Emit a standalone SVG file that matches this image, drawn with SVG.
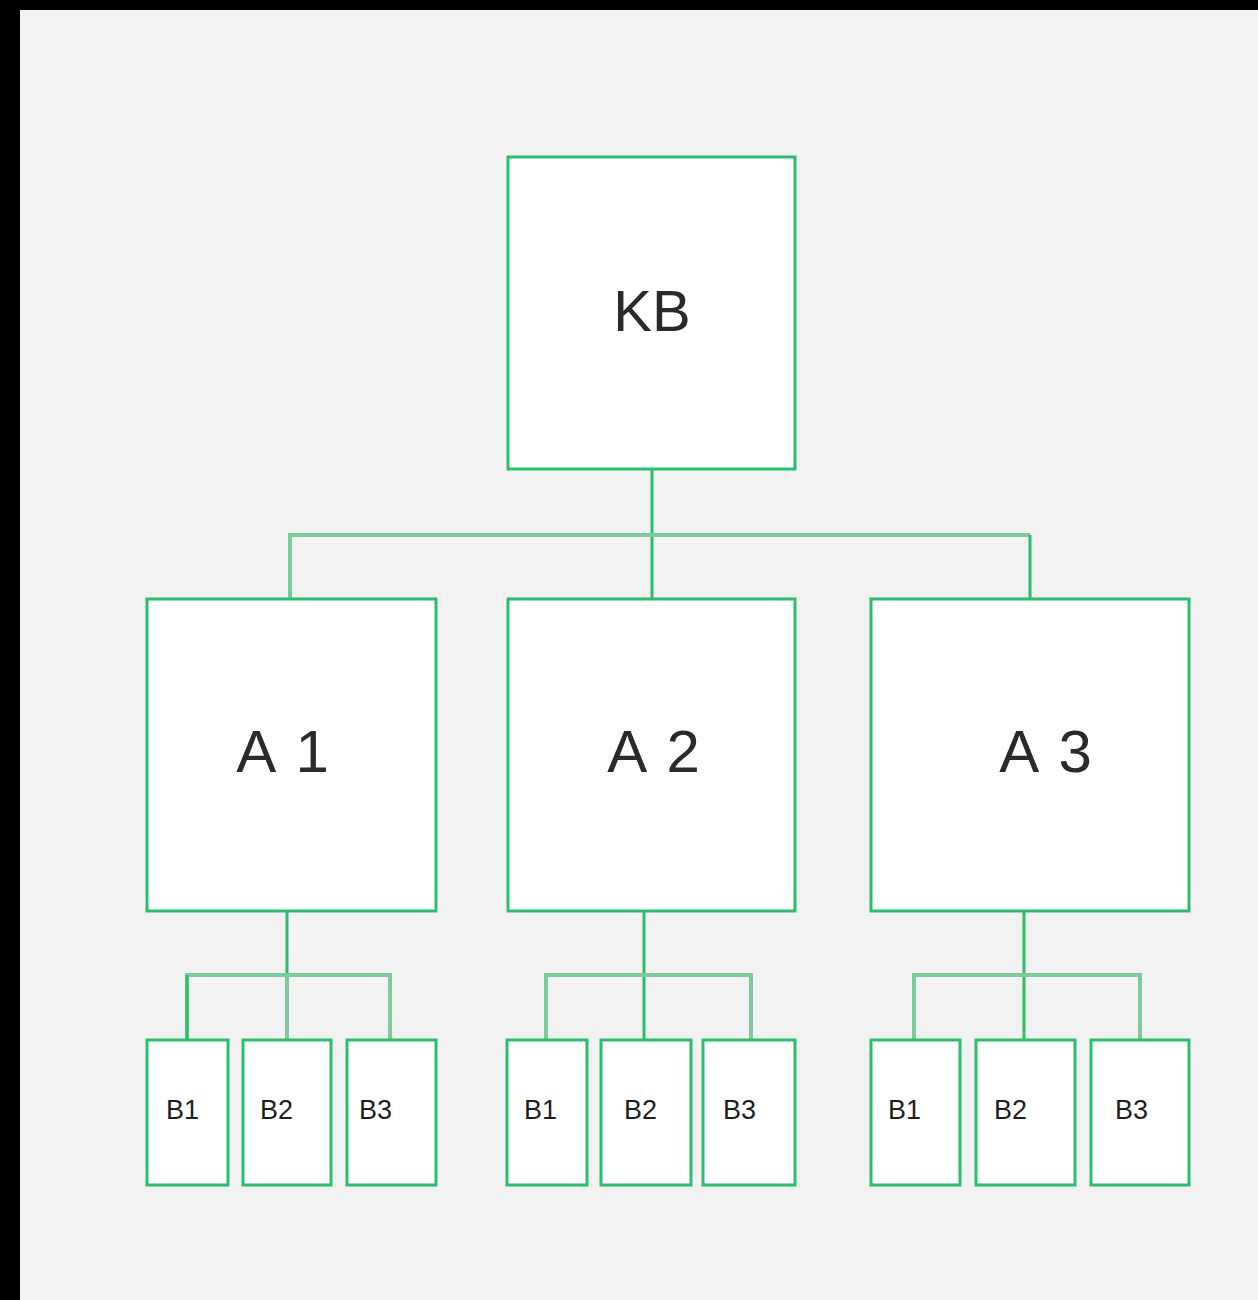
<svg xmlns="http://www.w3.org/2000/svg" width="1258" height="1300" viewBox="0 0 1258 1300">
  <style>
    .box { fill: #ffffff; stroke: #2dbd6e; stroke-width: 3; }
    .wire { fill: none; stroke: #2dbd6e; stroke-width: 3; }
    .soft { fill: none; stroke: #7ccb9c; stroke-width: 4; }
    .big { font-family: "Liberation Sans", Arial, sans-serif; font-size: 60px; fill: #2a2a2a; text-anchor: middle; }
    .root { font-size: 58px; }
    .wide { letter-spacing: 3px; }
    .small { font-family: "Liberation Sans", Arial, sans-serif; font-size: 27px; fill: #1e1e1e; }
  </style>

  <!-- frame and canvas -->
  <rect x="0" y="0" width="1258" height="1300" fill="#000000"/>
  <rect x="20" y="10" width="1238" height="1290" fill="#f2f2f2"/>

  <!-- connectors -->
  <g id="connectors">
    <path class="wire" d="M652 469 V599"/>
    <path class="soft" d="M290 599 V535 H1030"/>
    <path class="wire" d="M1030 535 V599"/>

    <path class="wire" d="M287 911 V975"/>
    <path class="soft" d="M187 1040 V975 H390 V1040"/>
    <path class="soft" d="M287 975 V1040"/>
    <path class="wire" d="M187 975 V1040"/>

    <path class="wire" d="M644 911 V1040"/>
    <path class="soft" d="M546 1040 V975 H751 V1040"/>

    <path class="wire" d="M1024 911 V1040"/>
    <path class="soft" d="M914 1040 V975 H1140 V1040"/>
  </g>

  <!-- root -->
  <g id="kb">
    <rect class="box" x="508" y="157" width="287" height="312"/>
    <text class="big root" x="652" y="331">KB</text>
  </g>

  <!-- second level -->
  <g id="a1">
    <rect class="box" x="147" y="599" width="289" height="312"/>
    <text class="big wide" x="284" y="772">A 1</text>
  </g>
  <g id="a2">
    <rect class="box" x="508" y="599" width="287" height="312"/>
    <text class="big wide" x="655" y="772">A 2</text>
  </g>
  <g id="a3">
    <rect class="box" x="871" y="599" width="318" height="312"/>
    <text class="big wide" x="1047" y="772">A 3</text>
  </g>

  <!-- leaves under A 1 -->
  <g id="a1-b1">
    <rect class="box" x="147" y="1040" width="81" height="145"/>
    <text class="small" x="166" y="1119">B1</text>
  </g>
  <g id="a1-b2">
    <rect class="box" x="243" y="1040" width="88" height="145"/>
    <text class="small" x="260" y="1119">B2</text>
  </g>
  <g id="a1-b3">
    <rect class="box" x="347" y="1040" width="89" height="145"/>
    <text class="small" x="359" y="1119">B3</text>
  </g>

  <!-- leaves under A 2 -->
  <g id="a2-b1">
    <rect class="box" x="507" y="1040" width="80" height="145"/>
    <text class="small" x="524" y="1119">B1</text>
  </g>
  <g id="a2-b2">
    <rect class="box" x="601" y="1040" width="90" height="145"/>
    <text class="small" x="624" y="1119">B2</text>
  </g>
  <g id="a2-b3">
    <rect class="box" x="703" y="1040" width="92" height="145"/>
    <text class="small" x="723" y="1119">B3</text>
  </g>

  <!-- leaves under A 3 -->
  <g id="a3-b1">
    <rect class="box" x="871" y="1040" width="89" height="145"/>
    <text class="small" x="888" y="1119">B1</text>
  </g>
  <g id="a3-b2">
    <rect class="box" x="976" y="1040" width="99" height="145"/>
    <text class="small" x="994" y="1119">B2</text>
  </g>
  <g id="a3-b3">
    <rect class="box" x="1091" y="1040" width="98" height="145"/>
    <text class="small" x="1115" y="1119">B3</text>
  </g>
</svg>
